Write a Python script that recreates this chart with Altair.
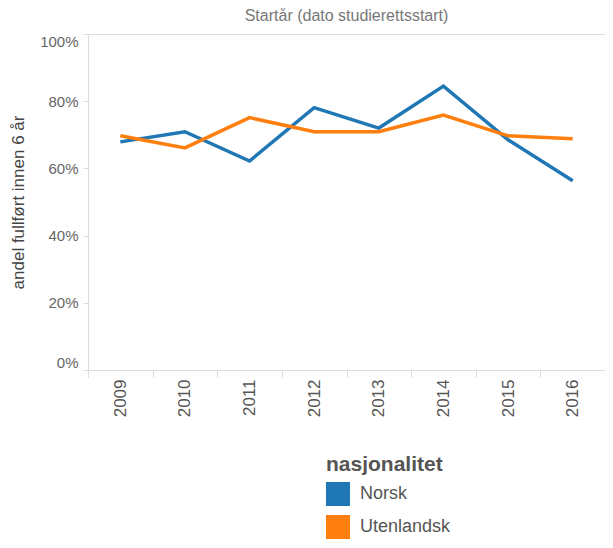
import altair as alt
import pandas as pd

years = ["2009", "2010", "2011", "2012", "2013", "2014", "2015", "2016"]
norsk = [0.679, 0.709, 0.622, 0.781, 0.720, 0.845, 0.685, 0.563]
utenlandsk = [0.697, 0.661, 0.751, 0.709, 0.709, 0.759, 0.697, 0.688]
series_names = ["Norsk", "Utenlandsk"]
series_colors = ["#1f77b4", "#ff7f0e"]

rows = []
for name, vals in zip(series_names, [norsk, utenlandsk]):
    for y, v in zip(years, vals):
        rows.append({"year": y, "value": v, "nasjonalitet": name})
df = pd.DataFrame(rows)

FONT = "Liberation Sans"

x_enc = alt.X(
    "year:N",
    sort=years,
    scale=alt.Scale(paddingInner=0, paddingOuter=0),
    axis=alt.Axis(
        title=None,
        labelAngle=270,
        labelFontSize=17,
        labelColor="#555555",
        labelFont=FONT,
        tickColor="#dddddd",
        tickSize=7,
        tickBand="extent",
        labelPadding=2,
        domainColor="#dddddd",
        grid=False,
    ),
)

y_enc = alt.Y(
    "value:Q",
    scale=alt.Scale(domain=[0, 1], nice=False),
    axis=alt.Axis(
        title="andel fullført innen 6 år",
        titleFontSize=17,
        titleFontWeight="normal",
        titleColor="#444444",
        titleFont=FONT,
        titlePadding=12,
        format=".0%",
        values=[0, 0.2, 0.4, 0.6, 0.8, 1.0],
        labelFontSize=15,
        labelColor="#666666",
        labelFont=FONT,
        labelFlush=True,
        labelFlushOffset=0,
        labelPadding=5,
        tickColor="#dddddd",
        tickSize=5,
        domainColor="#dddddd",
        grid=False,
    ),
)

color_scale = alt.Scale(domain=series_names, range=series_colors)

legend_layer = (
    alt.Chart(df)
    .mark_square(filled=True, opacity=0)
    .encode(
        x=x_enc,
        y=y_enc,
        color=alt.Color(
            "nasjonalitet:N",
            scale=color_scale,
            legend=alt.Legend(
                orient="none",
                legendX=238,
                legendY=420,
                direction="vertical",
                title="nasjonalitet",
                titleFontSize=21,
                titleFontWeight="bold",
                titleColor="#555555",
                titleFont=FONT,
                titlePadding=7,
                labelFontSize=18,
                labelColor="#555555",
                labelFont=FONT,
                labelOffset=10,
                symbolType="square",
                symbolSize=576,
                symbolStrokeWidth=0,
                symbolOpacity=1,
                rowPadding=9,
                padding=0,
            ),
        ),
    )
)

lines = (
    alt.Chart(df)
    .mark_line(strokeWidth=3.5)
    .encode(
        x=x_enc,
        y=y_enc,
        color=alt.Color("nasjonalitet:N", scale=color_scale, legend=None),
    )
)

chart = (
    alt.layer(legend_layer, lines)
    .properties(
        width=517,
        height=336,
        title=alt.TitleParams(
            "Startår (dato studierettsstart)",
            fontSize=16,
            fontWeight="normal",
            color="#777777",
            font=FONT,
            anchor="middle",
            baseline="alphabetic",
            offset=12,
            dy=15,
        ),
        autosize=alt.AutoSizeParams(type="none"),
        padding={"left": 80, "top": 26, "right": 0, "bottom": 170},
    )
    .configure_view(stroke="#e0e0e0", strokeWidth=1)
    .configure(background="white")
)

chart.save("out.html", embed_options={"renderer": "svg", "actions": False})
